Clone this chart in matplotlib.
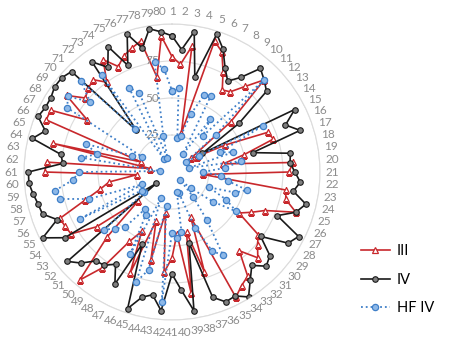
import matplotlib
matplotlib.use("Agg")
import matplotlib.pyplot as plt
import numpy as np

plt.rcParams['font.family'] = ['Lato', 'DejaVu Sans']

# categories 1..80 around the radar
categories = [str(i) for i in range(1, 81)]

# series values (0-100 scale)
iii = [78, 73, 86, 27, 93, 88, 76, 65, 67, 76,
       88, 52, 16, 20, 40, 70, 72, 50, 35, 82,
       79, 21, 78, 79, 88, 68, 60, 53, 72, 76,
       82, 70, 87, 90, 95, 33, 71, 42, 83, 42,
       58, 68, 28, 61, 35, 74, 45, 55, 80, 96,
       62, 30, 63, 80, 81, 82, 62, 50, 43, 24,
       86, 85, 15, 83, 22, 92, 92, 67, 88, 77,
       80, 82, 75, 89, 80, 85, 88, 91, 65, 92]

iv = [92, 83, 96, 66, 98, 90, 79, 72, 79, 92,
      88, 84, 56, 24, 93, 83, 91, 56, 81, 80,
      83, 87, 83, 93, 88, 77, 96, 92, 74, 87,
      90, 83, 90, 99, 94, 95, 89, 49, 95, 80,
      69, 94, 84, 87, 97, 53, 85, 73, 78, 79,
      87, 93, 13, 85, 98, 84, 92, 93, 95, 97,
      97, 74, 76, 97, 90, 98, 96, 96, 98, 98,
      96, 37, 92, 83, 95, 78, 98, 86, 98, 95]

hf_iv = [55, 57, 23, 25, 41, 56, 58, 14, 44, 32,
         88, 39, 12, 21, 69, 35, 43, 12, 47, 36,
         21, 33, 38, 52, 45, 27, 41, 51, 34, 17,
         8, 22, 40, 66, 60, 41, 15, 14, 41, 45,
         41, 88, 23, 68, 78, 19, 62, 34, 31, 49,
         54, 60, 23, 24, 70, 22, 59, 78, 80, 67,
         63, 8, 62, 52, 61, 29, 23, 83, 87, 73,
         87, 38, 81, 10, 64, 58, 10, 25, 75, 70]

rings = [25, 50, 75, 100]
ring_labels = ['25', '50', '75']

n = len(categories)
theta = np.linspace(0, 2 * np.pi, n, endpoint=False)
theta_c = np.append(theta, theta[0])

def closed(v):
    return np.append(v, v[0])

fig = plt.figure(figsize=(4.5, 3.4), dpi=100)
ax = fig.add_axes([24 / 450, 20 / 340, 296 / 450, 296 / 340], projection='polar')
ax.set_theta_zero_location('N')
ax.set_theta_direction(-1)
ax.set_ylim(0, 100)

# red, black, blue
ax.plot(theta_c, closed(iii), color='#C8282C', lw=1.2, marker='^', ms=4,
        mfc='white', mec='#C8282C', mew=0.9, label='III', zorder=3)
ax.plot(theta_c, closed(iv), color='#1a1a1a', lw=1.2, marker='o', ms=4,
        mfc='#7f7f7f', mec='#1a1a1a', mew=0.8, label='IV', zorder=4)
ax.plot(theta_c, closed(hf_iv), color='#3F7FC8', lw=1.3, ls=':', marker='o', ms=4.5,
        mfc='#8DB8E8', mec='#3F7FC8', mew=0.9, label='HF IV', zorder=5)

# grid
ax.set_yticks(rings)
ax.set_yticklabels([])
ax.yaxis.grid(True, color='#dcdcdc', lw=0.8)
ax.xaxis.grid(False)
ax.spines['polar'].set_color('#dcdcdc')
ax.spines['polar'].set_linewidth(0.8)

for r, lab in zip(rings, ring_labels):
    ax.annotate(lab, xy=(0, r), xytext=(-9, 0), textcoords='offset points',
                ha='right', va='center', fontsize=8.5, color='#8c8c8c')

# category labels just outside the outer ring
ax.set_xticks(theta)
ax.set_xticklabels([])
for t, lab in zip(theta, categories):
    ax.text(t, 108.5, lab, ha='center', va='center', fontsize=8.5, color='#8c8c8c')

fig.legend(loc='upper left', bbox_to_anchor=(0.772, 0.32), frameon=False,
           fontsize=10.5, handlelength=2.0, labelspacing=1.0, handletextpad=0.5)

fig.savefig('out.png', dpi=100)
